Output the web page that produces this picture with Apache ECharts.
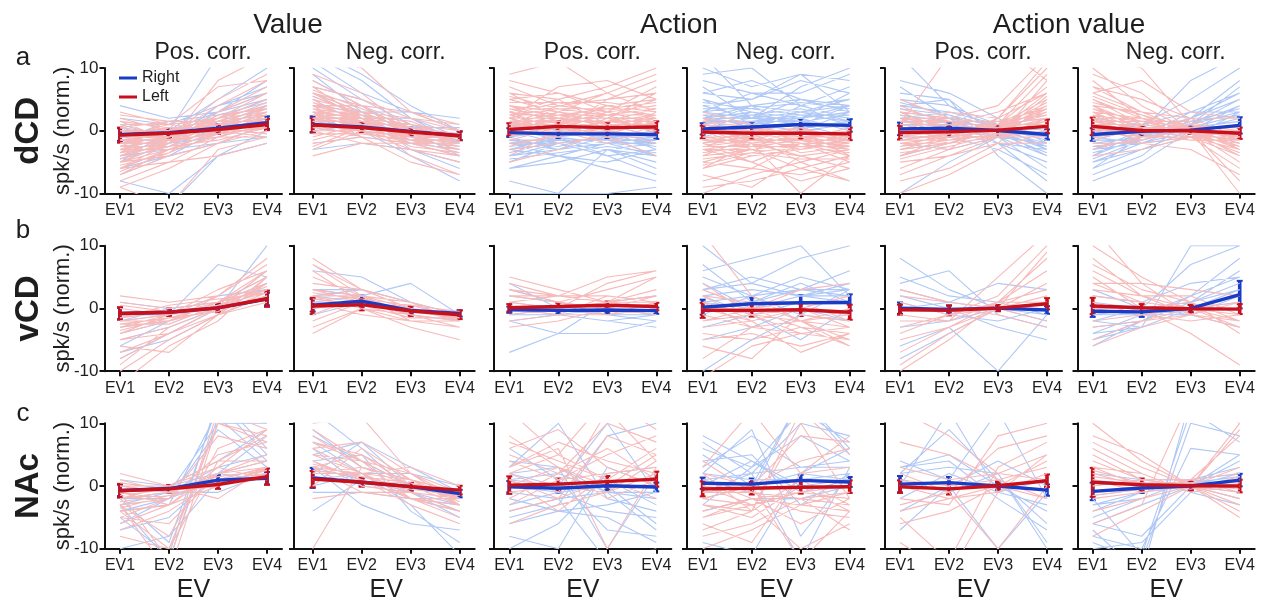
<!DOCTYPE html>
<html><head><meta charset="utf-8">
<script src="https://cdn.jsdelivr.net/npm/echarts@6/dist/echarts.min.js"></script>
<style>html,body{margin:0;padding:0;background:#fff}#c{width:1268px;height:606px}</style>
</head><body><div id="c"></div>
<script>
// ---------- labels ----------
const evCategories = ['EV1','EV2','EV3','EV4'];
const groupTitles = ['Value','Action','Action value'];
const subTitles = ['Pos. corr.','Neg. corr.','Pos. corr.','Neg. corr.','Pos. corr.','Neg. corr.'];
const rowLetters = ['a','b','c'];
const rowNames = ['dCD','vCD','NAc'];
const yTicks = [-10, 0, 10];
const yName = 'spk/s (norm.)';
const xName = 'EV';
const legendNames = ['Right','Left'];

// ---------- means (Right = blue, Left = red), per row, 6 panels ----------
const meanRed_a = [[-0.7,-0.4,0.2,1.0],[0.9,0.5,-0.2,-0.8],[0.2,0.7,0.5,0.6],[-0.2,-0.4,-0.4,-0.5],[-0.3,-0.15,0.1,0.7],[0.7,0.05,0,-0.4]];
const meanBlue_a = [[-0.6,-0.3,0.4,1.3],[1.0,0.6,-0.1,-0.8],[-0.3,-0.5,-0.5,-0.6],[0.3,0.6,1.0,0.85],[0.3,0.4,0.05,-0.6],[-0.6,-0.1,0.1,0.85]];
const errRed_a = [[1.2,0.7,0.7,0.9],[1.1,0.7,0.6,0.7],[1.0,0.8,0.8,0.9],[1.0,0.9,0.9,1.0],[1.1,0.8,0.7,1.1],[1.4,0.6,0.5,0.9]];
const errBlue_a = [[1.0,0.6,0.6,1.0],[1.3,0.7,0.6,0.7],[0.7,0.7,0.7,0.7],[0.9,0.8,0.9,1.0],[1.0,0.8,0.6,0.8],[1.0,0.6,0.6,1.3]];
const meanRed_b = [[-0.8,-0.6,0.1,1.55],[0.4,0.6,-0.4,-1.0],[0.1,0.3,0.5,0.3],[-0.3,-0.3,-0.2,-0.6],[-0.2,-0.3,0.05,0.75],[0.4,0.1,-0.05,-0.1]];
const meanBlue_b = [[-0.8,-0.6,0.1,1.5],[0.5,1.15,-0.3,-0.8],[-0.2,-0.3,-0.25,-0.35],[0.2,0.75,0.9,0.95],[0.05,-0.15,0.05,-0.25],[-0.45,-0.55,0,2.2]];
const errRed_b = [[1.0,0.6,0.7,1.3],[1.3,0.9,0.8,0.7],[0.6,0.6,0.6,0.6],[1.2,1.0,1.0,1.2],[0.8,0.8,0.5,0.9],[1.3,0.6,0.6,0.8]];
const errBlue_b = [[0.9,0.5,0.5,1.0],[1.0,0.9,0.6,0.5],[0.5,0.5,0.5,0.5],[1.2,1.0,1.2,1.3],[0.9,0.6,0.4,0.6],[0.9,0.8,0.6,2.2]];
const meanRed_c = [[-0.75,-0.45,0.25,1.5],[1.1,0.6,-0.1,-0.65],[0.15,0.3,0.7,1.1],[-0.45,-0.35,-0.2,-0.1],[-0.1,-0.45,0.05,0.85],[0.6,0.2,0.05,0]];
const meanBlue_c = [[-0.7,-0.4,0.95,1.25],[1.3,0.6,-0.1,-1.2],[-0.1,-0.35,0.05,-0.15],[0.45,0.3,0.9,0.65],[0.3,0.55,0,-0.65],[-0.85,-0.3,0,0.95]];
const errRed_c = [[1.1,0.6,0.7,1.3],[1.3,0.7,0.6,0.7],[1.4,0.9,0.9,1.2],[1.2,1.0,1.0,1.0],[1.0,0.9,0.7,1.0],[2.3,1.0,0.8,1.0]];
const errBlue_c = [[0.9,0.5,0.8,1.0],[1.6,0.6,0.6,0.6],[0.9,0.7,0.7,0.7],[0.9,0.9,0.9,0.8],[1.3,0.9,0.5,0.9],[1.4,0.8,0.6,1.0]];

// ---------- individual neurons (values at EV1..EV4), estimated ----------
const a1R = [[-3,-1,1,3],[-5,-2,0,2],[-2,-1,1,4],[-6,-3,-1,1],[-1,0,2,5],[-4,-2,2,6],[-7,-4,-2,0],[-2,-2,0,1],[0,0,1,2],[-3,-1,3,7],[-8,-5,-1,2],[1,1,2,3],[-5,-3,-1,-1],[-4,-1,4,8],[-2,0,0,1],[2,0,1,3],[-6,-2,1,4],[-3,-3,0,2],[-1,-1,3,6],[-9,-6,-2,1],[-4,-2,0,3],[0,-1,2,4],[-2,-1,5,9],[-5,-4,-2,0],[-3,0,2,5],[3,1,0,2],[-7,-3,0,-1],[-1,1,7,8],[-4,-2,1,1],[-6,-5,-4,-2],[-3,-2,8,12],[-9,-12,-3,-1],
  [-2.5,-1.5,0.5,1.5],[-1.5,-0.5,1.5,2.5],[-3.5,-2.5,-0.5,1.5],[0.5,-0.5,0.5,1.5],[-2.5,0.5,1.5,3.5],[-4.5,-2.5,-0.5,0.5],[-0.5,0.5,0.5,-0.5],[1.5,0.5,-0.5,2.5],[-3.5,-1.5,0.5,0.5],[-1.5,-2.5,1.5,4.5],[0.5,1.5,1.5,1.5],[-0.5,-1.5,-0.5,0.5],[-5.5,-3.5,1.5,3.5],[2.5,1.5,1.5,2.5],[-3.5,0.5,1.5,2.5],[-1.5,-1.5,2.5,3.5],[-4.5,-1.5,0.5,2.5],[1.5,-1.5,1.5,4.5],[-6.5,-3.5,-0.5,2.5],[-2.5,-2.5,-1.5,0.5],[-4.5,-2.5,1.5,4.5],[-0.5,-0.5,0.5,3.5]];
const a1B = [[-4,-2,1,3],[-2,-1,2,5],[-6,-3,0,3],[0,0,3,6],[-3,-2,0,2],[-8,-10,-4,0],[2,1,4,7],[-5,-2,-1,1],[-1,0,5,10],[-3,-1,1,4],[-7,-4,-2,-1],[1,-1,2,4],[-2,-2,3,8],[-4,-3,-2,1],[-5,0,12,14],[-11,-12,-4,-2],[4,2,3,5],[-2,0,1,2],[-6,-4,0,4],[-1,-2,4,6],
  [-2.5,-1.5,1.5,2.5],[-3.5,-1.5,2.5,4.5],[0.5,-1.5,1.5,3.5],[-1.5,1.5,2.5,3.5],[-4.5,-2.5,0.5,1.5]];
const a2R = [[3,1,-1,-2],[6,3,0,-2],[1,1,0,-1],[8,4,1,-1],[4,2,-1,-3],[-2,-1,-2,-3],[2,2,0,-1],[5,1,-2,-4],[0,0,-1,-2],[7,5,2,0],[3,3,0,-2],[-4,-2,-2,-3],[9,6,0,-2],[1,0,-3,-5],[4,0,-1,-1],[2,-1,-2,-2],[6,2,1,-1],[-1,1,-1,-2],[3,2,-4,-7],[5,3,2,1],[0,-2,-3,-4],[12,10,3,0],[2,1,1,0],[4,4,-1,-3],[-3,0,-1,-2],[6,4,3,1],[1,-1,-5,-7],[3,0,-2,-1],[7,2,0,-2],[2,3,0,-1],
  [2.5,1.5,0.5,-1.5],[1.5,0.5,-0.5,-1.5],[3.5,1.5,-0.5,-2.5],[0.5,1.5,0.5,-0.5],[2.5,0.5,-1.5,-2.5],[1.5,2.5,0.5,-0.5],[-1.5,0.5,-1.5,-1.5],[4.5,2.5,0.5,-1.5],[2.5,1.5,-1.5,-3.5],[0.5,-0.5,-0.5,-2.5],[3.5,2.5,1.5,-1.5],[1.5,1.5,-2.5,-3.5],[5.5,2.5,-0.5,-1.5],[-2.5,0.5,-0.5,-1.5],[2.5,2.5,-1.5,-0.5],[3.5,0.5,-1.5,-2.5],[6.5,3.5,0.5,-1.5],[-0.5,-0.5,-1.5,-3.5],[4.5,1.5,0.5,-0.5]];
const a2B = [[10,5,1,-1],[12,8,2,-2],[6,3,0,-1],[3,2,1,-1],[8,4,-1,-3],[1,0,-1,-2],[5,1,0,-4],[-2,-1,-2,-2],[11,6,3,0],[4,3,3,2],[2,2,-2,-4],[7,5,1,-2],[0,1,-1,-1],[9,3,-3,-5],[13,9,4,0],[3,-1,-2,-3],[6,2,2,-1],[-3,-2,-3,-6],[4,4,0,-2],[2,0,-4,-8],
  [2.5,1.5,0.5,-1.5],[5.5,2.5,-1.5,-2.5],[1.5,1.5,0.5,0.5]];
const a3R = [[3,2,4,2],[1,3,2,5],[5,6,3,4],[-1,1,0,2],[2,0,3,1],[7,4,5,8],[0,2,1,0],[4,3,6,3],[-2,-1,1,-1],[6,2,2,6],[1,1,4,3],[3,5,1,2],[-4,0,-2,1],[2,4,3,7],[8,6,4,5],[0,-1,2,2],[5,3,1,0],[-3,-2,-1,-4],[2,7,8,5],[4,1,3,4],[1,2,-1,3],[6,5,7,10],[-1,3,2,0],[3,0,5,6],[2,2,1,1],[9,11,6,3],[-5,-3,0,-2],[1,4,6,9],[4,2,0,1],[0,1,3,4],
  [1.5,1.5,1.5,1.5],[2.5,0.5,2.5,2.5],[0.5,0.5,1.5,0.5],[1.5,2.5,0.5,2.5],[3.5,2.5,2.5,3.5],[-0.5,0.5,-0.5,1.5],[2.5,3.5,2.5,0.5],[1.5,-0.5,1.5,2.5],[0.5,1.5,2.5,-0.5],[2.5,2.5,3.5,2.5],[-1.5,0.5,0.5,0.5],[1.5,1.5,-0.5,1.5],[3.5,1.5,1.5,3.5],[0.5,2.5,1.5,2.5],[4.5,4.5,2.5,2.5],[-0.5,-0.5,0.5,0.5],[5.5,3.5,3.5,4.5],[-2.5,-0.5,1.5,1.5],[2.5,4.5,4.5,3.5]];
const a3B = [[-2,-3,-2,-4],[-1,0,-1,-2],[-4,-2,-3,-5],[1,-1,0,-1],[-3,-4,-2,-2],[-6,-5,-3,-6],[0,-1,-2,-1],[-2,-2,-4,-3],[-5,-2,-1,-4],[2,0,1,-1],[-1,-3,-1,-2],[-3,-1,-4,-7],[-8,-10,-3,-2],[-2,-1,0,-3],[0,-2,-3,-4],[-4,-3,-2,-1],[-10,-10,-10,-9],[-1,1,-1,-1],[-3,-2,-3,-5],[-6,-4,-5,-3],[1,0,-1,0],[-2,-4,-6,-8],
  [-1.5,-1.5,-1.5,-1.5],[0.5,-1.5,-1.5,-2.5],[-2.5,-1.5,-2.5,-1.5],[-1.5,-2.5,-0.5,-1.5],[-3.5,-1.5,-1.5,-2.5],[0.5,0.5,-1.5,-1.5],[-4.5,-3.5,-2.5,-3.5]];
const a4B = [[3,4,5,3],[1,2,2,4],[6,5,8,6],[2,1,3,2],[0,3,1,1],[8,6,4,7],[4,2,5,4],[-1,1,2,0],[2,4,3,5],[10,7,9,8],[5,3,2,3],[1,0,4,2],[3,6,6,9],[7,2,1,4],[0,1,0,1],[4,5,9,3],[2,3,2,6],[12,4,3,2],[-2,0,1,-1],[6,8,5,4],[3,2,7,10],[1,4,0,3],[5,1,3,1],[9,10,4,5],[2,2,3,4],
  [1.5,1.5,2.5,1.5],[2.5,2.5,1.5,2.5],[0.5,1.5,1.5,0.5],[3.5,3.5,2.5,2.5],[1.5,2.5,3.5,1.5],[2.5,0.5,2.5,2.5],[-0.5,1.5,0.5,1.5],[4.5,3.5,4.5,3.5]];
const a4R = [[-2,-1,-3,-2],[-4,-3,-2,-5],[0,-1,0,-1],[-1,-2,-4,-3],[-6,-4,-3,-2],[1,0,-1,-2],[-3,-5,-2,-4],[-8,-6,-7,-5],[-2,0,-1,-3],[2,-2,-3,-1],[-5,-3,-6,-8],[-1,-1,-2,-2],[-3,-2,0,-4],[-7,-9,-4,-6],[0,-3,-1,-1],[-4,-1,-5,-3],[3,1,-2,-4],[-2,-4,-3,-2],[-10,-7,-5,-8],[-1,-2,-10,-4],[-5,-6,-2,-3],[1,-1,0,-2],[-3,-3,-4,-6],[-6,-2,-1,-1],[-2,-5,-8,-6],[0,0,-2,-3],[-9,-8,-6,-4],[2,1,-1,0],
  [-1.5,-1.5,-1.5,-1.5],[0.5,-1.5,-1.5,-2.5],[-2.5,-2.5,-0.5,-1.5],[-1.5,0.5,-2.5,-1.5],[-3.5,-1.5,-1.5,-2.5],[0.5,-2.5,-1.5,0.5],[-1.5,-1.5,0.5,-2.5],[-2.5,-1.5,-2.5,-0.5],[1.5,0.5,-1.5,-1.5],[-3.5,-2.5,-2.5,-3.5],[-0.5,0.5,-0.5,-1.5],[-1.5,-2.5,-1.5,-3.5],[-2.5,-0.5,0.5,-1.5],[-4.5,-3.5,-2.5,-2.5],[-5.5,-3.5,-4.5,-4.5],[0.5,-0.5,-3.5,-2.5]];
const a5R = [[-2,-1,1,4],[1,0,0,3],[-4,-2,0,6],[3,2,1,5],[-1,-1,0,2],[-6,-3,-1,8],[2,1,1,1],[-3,-2,1,7],[0,0,0,3],[-5,-4,-1,2],[4,1,0,4],[-2,-3,2,10],[1,2,1,2],[-7,-4,-2,5],[-1,0,1,9],[2,-1,-1,0],[-3,-1,0,1],[0,3,2,6],[-8,-6,-2,-2],[5,2,1,3],[-2,-2,0,4],[1,12,14,8],[-4,-1,2,11],[3,0,-1,1],[-1,1,3,6],[0,-2,-1,-1],[-10,-7,-3,0],[2,2,4,12],
  [0.5,0.5,0.5,1.5],[-1.5,-0.5,0.5,2.5],[1.5,0.5,0.5,1.5],[-2.5,-1.5,0.5,1.5],[0.5,1.5,0.5,2.5],[-1.5,-1.5,0.5,3.5],[2.5,0.5,-0.5,1.5],[-0.5,-0.5,0.5,0.5],[-3.5,-2.5,-0.5,3.5],[1.5,1.5,0.5,2.5],[0.5,-1.5,-0.5,1.5],[-2.5,-0.5,1.5,2.5],[1.5,1.5,1.5,3.5],[-1.5,-1.5,-0.5,-0.5],[3.5,1.5,0.5,4.5],[-4.5,-2.5,-0.5,5.5]];
const a5B = [[2,1,0,-2],[4,3,1,-3],[0,0,0,-1],[6,5,-1,-4],[1,2,1,0],[3,0,-2,-5],[-1,-1,0,-2],[5,4,1,-1],[2,-1,-3,-7],[0,1,0,-3],[8,6,2,-2],[-2,-3,-1,1],[3,2,0,-4],[1,0,-2,-8],[4,5,-4,-10],[-4,-2,0,-1],[2,3,1,2],[-10,-5,-1,-2],[7,2,-2,-3],[1,1,-1,-6],[-3,-2,0,-2],[12,4,0,-1],
  [1.5,1.5,0.5,-1.5],[2.5,1.5,0.5,-1.5],[0.5,1.5,-0.5,-2.5],[1.5,0.5,0.5,-0.5],[3.5,2.5,0.5,-2.5],[-1.5,-0.5,0.5,-1.5],[4.5,2.5,-0.5,-3.5]];
const a6R = [[4,1,0,-2],[2,0,0,-1],[6,3,0,-3],[1,1,0,0],[8,2,-1,-4],[3,-1,0,-2],[-1,0,0,1],[5,2,1,-1],[10,4,0,-5],[0,-1,-1,-3],[7,5,2,-1],[2,2,0,-4],[-3,-1,0,-2],[4,0,-1,-6],[6,8,3,2],[1,0,1,0],[9,6,0,-8],[3,2,-1,-2],[-2,-2,-1,-1],[5,1,0,1],[2,-2,-3,-7],[12,10,1,-3],[0,1,0,-2],[4,3,0,-10],[-4,-3,-1,0],[7,3,2,2],[3,0,1,-1],[1,-1,0,-3],
  [1.5,0.5,0.5,-1.5],[2.5,1.5,-0.5,-1.5],[0.5,0.5,0.5,0.5],[3.5,1.5,0.5,-2.5],[1.5,1.5,-0.5,-0.5],[2.5,-0.5,0.5,-1.5],[-1.5,0.5,-0.5,-1.5],[4.5,2.5,0.5,-1.5],[1.5,-0.5,-1.5,-1.5],[2.5,1.5,0.5,-2.5],[0.5,-1.5,0.5,0.5],[3.5,0.5,0.5,0.5],[1.5,1.5,1.5,-1.5],[-2.5,-1.5,0.5,0.5],[5.5,2.5,-0.5,-3.5],[-0.5,0.5,-0.5,-2.5]];
const a6B = [[-3,-1,0,2],[-1,0,0,1],[-5,-2,1,4],[0,0,1,3],[-2,-1,2,6],[-6,-3,0,2],[1,0,-1,0],[-4,-1,1,5],[-2,-2,0,1],[-7,-4,2,8],[-1,1,3,6],[-3,0,0,-1],[0,1,5,10],[-5,-3,-1,3],[2,1,0,2],[-8,-5,0,4],[-2,-1,1,7],[-1,-2,-1,0],[-4,0,8,12],[1,0,2,5],[-3,-2,0,-2],[-6,-1,3,3],
  [-1.5,0.5,0.5,1.5],[-2.5,-1.5,0.5,2.5],[0.5,-0.5,0.5,1.5],[-1.5,-1.5,1.5,2.5],[-3.5,-1.5,0.5,1.5],[-4.5,-1.5,1.5,3.5]];

const b1R = [[-3,-2,0,4],[-5,-3,0,3],[-8,-4,-1,5],[-2,-1,1,6],[-6,-7,-1,2],[-1,-1,0,3],[-10,-5,-1,4],[-4,-2,2,7],[-7,-4,-1,1],[1,0,1,5],[-3,-1,2,8],[-9,-3,0,6],[-2,-2,1,3],[2,1,2,7],[-5,-4,0,2],[-12,-6,-2,5],[-4,-1,1,4],[0,-1,3,6],
  [-2.5,-1.5,0.5,2.5],[-1.5,-0.5,0.5,1.5],[-3.5,-1.5,-0.5,2.5],[0.5,-0.5,0.5,1.5],[-2.5,-2.5,0.5,3.5],[-1.5,0.5,1.5,2.5]];
const b1B = [[-3,-2,0,3],[-8,-4,0,4],[1,0,1,3],[-2,-1,7,5],[-5,-3,0,10],[-4,-2,1,4],[-1,-1,2,3],[-7,-5,-1,2],[-2,0,1,5],[-6,-2,0,3]];
const b2R = [[8,3,0,-1],[7,2,-1,-2],[5,2,0,-2],[3,1,0,-1],[2,2,1,-1],[-3,0,-2,-3],[6,1,-1,-2],[1,1,-1,-2],[-2,1,0,-1],[4,3,1,-1],[-4,0,-3,-5],[2,0,-1,-3],[0,1,0,-1],[3,2,-2,-3],[-1,2,1,-2],[7,3,1,-1],[1,-1,-2,-2],[-3,0,-1,-2],
  [1.5,1.5,0.5,-1.5],[2.5,1.5,-0.5,-1.5],[0.5,0.5,0.5,-0.5],[1.5,0.5,-1.5,-1.5]];
const b2B = [[6,5,1,-2],[3,3,1,-1],[1,2,4,-1],[2,1,0,-2],[0,1,0,-1],[3,2,-1,-2],[-1,1,-1,-2],[2,3,1,-1]];
const b3R = [[5,3,1,5],[3,2,5,6],[2,1,3,5],[1,0,4,6],[4,2,2,1],[0,0,1,3],[-1,0,1,2],[2,1,-1,1],[1,2,1,0],[-2,-1,-1,0],[3,1,0,2],[0,-1,2,1],[-3,-2,0,-1],[2,2,1,1]];
const b3B = [[3,1,-1,-1],[-2,-4,-4,-2],[-7,-4,1,2],[-1,-1,-2,-1],[1,0,-1,-2],[-2,-1,0,-1],[0,-1,-2,-3],[2,1,0,-1],[-1,0,-1,-2],[4,0,-1,0]];
const b4B = [[10,4,2,1],[6,8,10,2],[3,4,8,10],[7,1,3,6],[2,3,2,2],[4,0,2,3],[1,2,-1,3],[-1,2,3,2],[5,2,5,3],[0,1,4,1],[-3,-1,-5,0],[2,-1,1,1],[-10,-5,-1,-2],[3,5,3,3],[1,0,2,4],[-5,-3,0,-2]];
const b4R = [[2,-2,0,-3],[-1,-3,-4,-5],[4,-1,-2,-1],[-3,-2,-7,-4],[0,0,-3,-4],[-6,-8,-1,-2],[1,-3,-2,-6],[-2,-1,-4,-3],[-8,-3,-2,-5],[12,2,-2,0],[3,0,1,-2],[-4,-5,-3,-6],[0,-2,0,2],[-11,-6,-4,-3],[2,1,-2,-3],[-5,-4,-6,-4],[1,-1,0,-1],[-2,0,3,4]];
const b5B = [[8,3,0,-2],[4,6,-1,-3],[3,1,0,1],[2,0,-3,-5],[-3,-2,0,-1],[-8,-4,0,-1],[1,-1,-2,0],[5,2,1,-1],[-6,-3,-10,-1],[0,1,4,3]];
const b5R = [[-3,-1,2,10],[-7,-3,0,9],[-1,-2,1,6],[-9,-4,0,4],[2,1,0,2],[-5,-3,1,1],[0,0,-1,-3],[-2,-2,5,12],[3,1,0,2],[-4,-1,0,-2],[1,-1,1,3],[-10,-5,1,8]];
const b6R = [[6,2,-1,-2],[4,1,0,-1],[13,4,-1,-3],[10,5,1,-2],[3,2,2,-1],[-2,-1,0,-3],[5,0,-4,-9],[2,1,0,0],[-5,-2,0,-2],[7,3,1,-4],[1,-1,-2,-1],[-3,-2,-1,1],[4,4,3,2],[0,0,1,-2],[-6,-3,-1,-3],[8,2,0,1]];
const b6B = [[-4,-3,10,10],[-2,0,7,10],[-5,-2,1,6],[-3,-2,2,5],[1,0,1,3],[-6,-2,1,4],[-1,-1,0,2],[2,1,4,5],[-2,-3,0,3],[0,-1,2,8],[-4,-1,-1,-3],[3,0,-1,2],[-1,0,1,4],[-5,-3,0,1]];

const c1R = [[-2,-1,1,3],[-4,-10,10,8],[-1,-2,2,4],[-6,-3,3,9],[-3,-14,10,7],[0,-1,0,2],[-5,-6,2,5],[-2,0,4,8],[1,-1,2,3],[-7,-4,1,2],[-3,-2,8,6],[-1,-12,12,9],[-4,-3,0,3],[2,0,3,1],[-5,-2,5,7],[-8,-10,4,4],[-2,-1,1,2],[0,0,-2,3],[-3,-8,6,9],[-1,-3,2,5],
  [-2.5,-1.5,0.5,1.5],[-1.5,-0.5,1.5,2.5],[-3.5,-1.5,0.5,2.5],[0.5,-0.5,1.5,2.5]];
const c1B = [[-3,-1,10,10],[-1,0,2,4],[-5,-11,14,6],[-2,-2,1,3],[-10,-8,1,2],[0,-1,3,5],[-4,-3,12,10],[1,0,2,1],[-6,-2,9,3],[-2,-1,-1,2],[-3,-12,11,4],[-7,-5,2,8],[-1,0,4,9],[-4,-2,1,3],[-2,-9,13,5]];
const c2R = [[8,3,1,-1],[5,4,0,-2],[6,7,2,-2],[3,5,1,-3],[9,4,-2,-4],[2,2,1,-1],[4,0,-1,-2],[7,5,0,-3],[-10,3,0,-1],[1,1,-2,-5],[5,2,3,0],[3,-1,-2,-3],[0,6,1,-2],[6,2,-1,-4],[2,3,0,-1],[10,11,2,-1],[4,1,-3,-6],[-2,-1,-1,-2],[7,4,2,-3],[3,2,-2,-2],
  [2.5,1.5,0.5,-1.5],[1.5,0.5,-0.5,-0.5],[3.5,1.5,-0.5,-1.5],[1.5,0.5,0.5,-2.5]];
const c2B = [[12,6,-1,-3],[5,7,3,-1],[3,-3,-6,-7],[8,4,0,-2],[-4,1,-2,-4],[2,7,0,-2],[6,0,-1,-5],[1,2,-2,-3],[4,5,-4,-9],[-1,-1,-2,-3],[9,3,1,-1],[0,2,-3,-11],[7,2,2,0],[3,1,-1,-4]];
const c3R = [[5,2,10,7],[3,6,-10,3],[1,-2,8,5],[-3,1,2,3],[7,4,1,6],[2,-1,12,4],[0,3,-2,1],[-4,-2,1,-2],[6,9,3,0],[4,1,5,8],[-1,0,-1,2],[8,3,0,5],[2,5,14,9],[-6,-3,-1,4],[3,7,4,2],[1,-4,2,3],[-2,2,6,1],[12,5,1,-2]];
const c3B = [[3,10,-2,-4],[-1,-2,-12,-10],[2,0,1,-3],[-5,-3,8,10],[1,2,-1,-1],[-8,-10,3,0],[0,-1,-4,-5],[4,3,-1,-2],[-3,-1,0,-6],[6,1,-7,-8],[-2,-4,-3,-1],[-10,-6,2,3],[1,0,10,-1],[-4,-2,-1,-7],[2,3,-10,2],[-6,-4,-5,-9]];
const c4B = [[3,8,3,4],[6,3,12,7],[1,2,10,8],[8,4,0,1],[-2,0,14,6],[4,5,-3,2],[2,1,1,2],[-1,2,-12,3],[5,0,2,6],[0,4,-1,1],[-3,3,8,4],[-9,-11,2,1],[7,2,3,3],[1,-1,14,5],[-4,-2,-2,0],[2,9,-8,2]];
const c4R = [[-2,-3,-1,-2],[2,-4,10,-2],[-5,-2,-3,-4],[-1,0,8,7],[-8,-6,-2,-3],[0,-3,-10,-6],[-3,-5,0,-4],[4,-1,-2,-1],[-6,-9,2,3],[-1,-1,-4,-5],[3,12,2,8],[-4,-2,-6,-2],[-7,-4,1,-3],[-2,0,4,6],[1,-2,-1,-2],[-10,-7,-3,-1],[-3,-4,12,5],[0,-1,-2,-7],[-5,-3,-1,0],[2,0,-12,-4]];
const c5B = [[3,5,0,-4],[2,9,1,-6],[-2,2,-1,1],[4,1,12,-2],[-4,0,-10,-1],[1,-1,2,-9],[3,4,-2,-7],[-7,0,4,0],[0,12,-1,-3],[2,3,2,-10]];
const c5R = [[7,5,1,3],[-3,-1,6,8],[-5,-12,3,7],[0,-2,-1,2],[-6,-4,0,4],[2,-1,-10,0],[-2,-3,8,10],[1,0,1,-2],[-9,-14,-1,5],[3,1,2,5],[-4,-2,0,-2],[12,8,2,1]];
const c6R = [[10,4,0,9],[7,3,0,10],[4,1,0,-2],[3,2,-1,1],[2,0,0,-1],[1,-1,0,3],[-4,-2,0,9],[-8,-4,0,-5],[5,1,1,2],[-2,-1,1,-1],[0,1,0,-4],[6,2,-1,0],[-6,-3,14,10],[3,0,0,1],[-1,0,1,8],[8,5,0,-3],
  [1.5,0.5,0.5,0.5],[2.5,0.5,-0.5,1.5],[-1.5,-0.5,0.5,-0.5]];
const c6B = [[-6,-8,0,5],[-9,-12,10,8],[-3,-1,0,2],[-7,-14,14,10],[1,0,0,1],[-5,-2,1,3],[2,1,0,-1],[-8,-10,6,5],[-4,-1,0,-2],[-2,-11,12,7],[0,1,1,2],[-6,-3,0,4],[-10,-9,-1,-3],[-3,-2,1,0],
  [-1.5,-0.5,0.5,1.5]];

// ---------- assembly ----------
const tracesRed = [[a1R,a2R,a3R,a4R,a5R,a6R],[b1R,b2R,b3R,b4R,b5R,b6R],[c1R,c2R,c3R,c4R,c5R,c6R]];
const tracesBlue = [[a1B,a2B,a3B,a4B,a5B,a6B],[b1B,b2B,b3B,b4B,b5B,b6B],[c1B,c2B,c3B,c4B,c5B,c6B]];
const meansRed = [meanRed_a, meanRed_b, meanRed_c];
const meansBlue = [meanBlue_a, meanBlue_b, meanBlue_c];
const errsRed = [errRed_a, errRed_b, errRed_c];
const errsBlue = [errBlue_a, errBlue_b, errBlue_c];

const FONT = '"Liberation Sans", Arial, Helvetica, sans-serif';
const TXT = '#1e1e1e';
const COL_BLUE = '#1a3cc4', COL_RED = '#c8101c';
const COL_LBLUE = '#b0c8f5', COL_LRED = '#f7baba';

// layout (pixels)
const AXIS_X = [104.5, 294, 494, 687, 885, 1077.5];
const EV1_X = [120, 312.7, 509.3, 702.7, 900, 1092.7];
const STEP = 49, TAIL = 15;
const ROW_TOP = [68, 245.7, 423.3], ROW_H = 125.5;

const grid = [], xAxis = [], yAxis = [], series = [];
function traceData(tr) {
  const d = [];
  tr.forEach(t => { t.forEach((v, i) => d.push([i + 1, v])); d.push(['-', '-']); });
  return d;
}
function errRender(color) {
  return function (params, api) {
    const x = api.value(0);
    const p1 = api.coord([x, api.value(1)]);
    const p2 = api.coord([x, api.value(2)]);
    const st = { stroke: color, lineWidth: 3.6 };
    const cs = { stroke: color, lineWidth: 2 };
    return { type: 'group', children: [
      { type: 'line', shape: { x1: p1[0], y1: p1[1], x2: p2[0], y2: p2[1] }, style: st },
      { type: 'line', shape: { x1: p1[0] - 3, y1: p1[1], x2: p1[0] + 3, y2: p1[1] }, style: cs },
      { type: 'line', shape: { x1: p2[0] - 3, y1: p2[1], x2: p2[0] + 3, y2: p2[1] }, style: cs }
    ] };
  };
}
let idx = 0;
for (let r = 0; r < 3; r++) {
  for (let c = 0; c < 6; c++) {
    const left = AXIS_X[c];
    const right = EV1_X[c] + 3 * STEP + TAIL;
    grid.push({ left: left, top: ROW_TOP[r], width: right - left, height: ROW_H });
    xAxis.push({
      gridIndex: idx, type: 'value',
      min: 1 - (EV1_X[c] - left) / STEP, max: 4 + TAIL / STEP,
      splitLine: { show: false },
      axisLine: { onZero: false, lineStyle: { color: '#111', width: 2 } },
      axisTick: { customValues: [1, 2, 3, 4], length: 5, lineStyle: { color: '#111', width: 2 } },
      axisLabel: { customValues: [1, 2, 3, 4], formatter: v => evCategories[Math.round(v) - 1],
        fontSize: 16, color: TXT, fontFamily: FONT, margin: 9 }
    });
    yAxis.push({
      gridIndex: idx, type: 'value', min: yTicks[0], max: yTicks[2], interval: 10,
      splitLine: { show: false },
      axisLine: { onZero: false, lineStyle: { color: '#111', width: 2 } },
      axisTick: { length: 5, lineStyle: { color: '#111', width: 2 } },
      axisLabel: { show: c === 0, fontSize: 17, color: TXT, fontFamily: FONT, margin: 6 }
    });
    const base = { xAxisIndex: idx, yAxisIndex: idx, animation: false, silent: true };
    series.push(Object.assign({ type: 'line', data: traceData(tracesBlue[r][c]), symbol: 'none',
      connectNulls: false, clip: true, lineStyle: { color: COL_LBLUE, width: 1.1 } }, base));
    series.push(Object.assign({ type: 'line', data: traceData(tracesRed[r][c]), symbol: 'none',
      connectNulls: false, clip: true, lineStyle: { color: COL_LRED, width: 1.1 } }, base));
    const mb = meansBlue[r][c], mr = meansRed[r][c], eb = errsBlue[r][c], er = errsRed[r][c];
    series.push(Object.assign({ type: 'line', name: legendNames[0], data: mb.map((v, i) => [i + 1, v]),
      symbol: 'none', lineStyle: { color: COL_BLUE, width: 3.4 }, itemStyle: { color: COL_BLUE } }, base));
    series.push(Object.assign({ type: 'custom', renderItem: errRender(COL_BLUE),
      encode: { x: 0, y: [1, 2] }, data: mb.map((v, i) => [i + 1, v - eb[i], v + eb[i]]) }, base));
    series.push(Object.assign({ type: 'line', name: legendNames[1], data: mr.map((v, i) => [i + 1, v]),
      symbol: 'none', lineStyle: { color: COL_RED, width: 3.4 }, itemStyle: { color: COL_RED } }, base));
    series.push(Object.assign({ type: 'custom', renderItem: errRender(COL_RED),
      encode: { x: 0, y: [1, 2] }, data: mr.map((v, i) => [i + 1, v - er[i], v + er[i]]) }, base));
    idx++;
  }
}

const graphic = [];
function txt(x, y, text, size, opts) {
  graphic.push(Object.assign({ type: 'text', x: x, y: y, silent: true,
    style: Object.assign({ text: text, fontSize: size, fontFamily: FONT, fill: TXT,
      align: 'center', verticalAlign: 'middle' }, (opts && opts.style) || {}) },
    opts && opts.rotation ? { rotation: opts.rotation } : {}));
}
const groupX = [288, 679, 1069];
groupTitles.forEach((t, i) => txt(groupX[i], 25, t, 28));
subTitles.forEach((t, i) => txt(EV1_X[i] + 83, 53, t, 23));
for (let r = 0; r < 3; r++) {
  const cy = ROW_TOP[r] + ROW_H / 2;
  txt(23, [58, 231, 414][r], rowLetters[r], 26);
  txt(29, cy, rowNames[r], 33, { rotation: Math.PI / 2, style: { fontWeight: 'bold' } });
  txt(63, cy, yName, 22, { rotation: Math.PI / 2 });
}
EV1_X.forEach(x => txt(x + 73.5, 590, xName, 25));

const chart = echarts.init(document.getElementById('c'), null, { renderer: 'canvas' });
chart.setOption({
  animation: false,
  textStyle: { fontFamily: FONT },
  grid, xAxis, yAxis, series, graphic,
  legend: {
    data: [{ name: legendNames[0], icon: 'rect' }, { name: legendNames[1], icon: 'rect' }],
    orient: 'vertical', left: 119, top: 70, itemWidth: 18, itemHeight: 3, itemGap: 3,
    selectedMode: false, padding: 0,
    textStyle: { fontSize: 16, color: TXT, fontFamily: FONT }
  }
});
</script></body></html>
